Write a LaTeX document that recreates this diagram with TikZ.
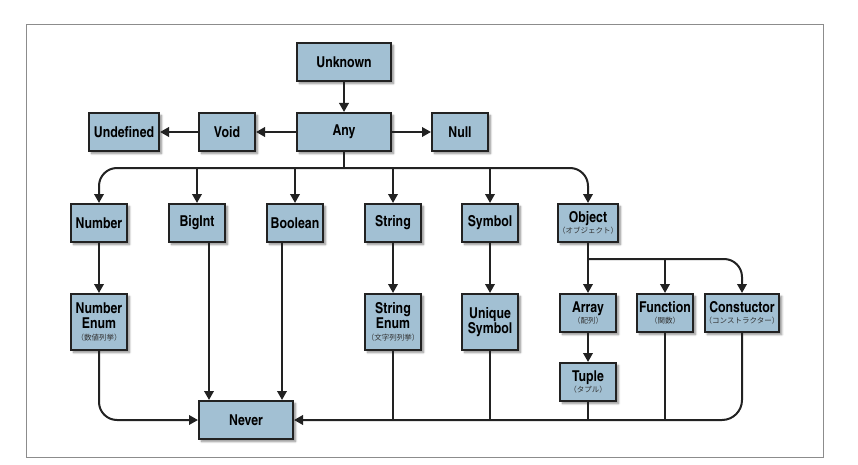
\documentclass[tikz,border=0pt]{standalone}
\usepackage{fontspec}
\setmainfont{texgyreheroscn}[Extension=.otf, UprightFont=*-regular, BoldFont=*-bold]
\newfontfamily\jpfont{Noto Sans CJK JP}
\usetikzlibrary{arrows.meta,shadows.blur}
\definecolor{boxfill}{RGB}{162,192,211}
\definecolor{boxline}{RGB}{34,34,34}
\definecolor{framegray}{RGB}{140,140,140}
\newcommand{\jsub}[1]{{\jpfont\fontsize{7.5}{8}\selectfont\mdseries\color{black!80}#1}}
\tikzset{
  tbox/.style={draw=boxline, line width=2pt, fill=boxfill, inner sep=0pt,
    align=center, font=\bfseries\fontsize{15}{14.5}\selectfont,
    blur shadow={shadow xshift=2.5pt, shadow yshift=-2.5pt, shadow blur steps=6, shadow opacity=45}},
  conn/.style={draw=boxline, line width=2pt},
  arr/.style={conn, -{Triangle[length=9pt,width=9.5pt]}},
}
\begin{document}
\begin{tikzpicture}[x=1pt,y=-1pt]
\useasboundingbox (0,0) rectangle (858,465);
\draw[framegray, line width=1pt] (26.5,24.5) rectangle (823.5,457.5);

\node[tbox, minimum width=94pt, minimum height=38pt] (unknown) at (344,62) {Unknown};
\node[tbox, minimum width=94pt, minimum height=38pt] (any) at (344,132) {Any};
\node[tbox, minimum width=56pt, minimum height=38pt] (void) at (227,132) {Void};
\node[tbox, minimum width=70pt, minimum height=38pt] (undef) at (124,132) {Undefined};
\node[tbox, minimum width=56pt, minimum height=38pt] (null) at (460,132) {Null};

\node[tbox, minimum width=56pt, minimum height=38pt] (number) at (99,223) {Number};
\node[tbox, minimum width=56pt, minimum height=38pt] (bigint) at (197,223) {BigInt};
\node[tbox, minimum width=56pt, minimum height=38pt] (boolean) at (295,223) {Boolean};
\node[tbox, minimum width=56pt, minimum height=38pt] (string) at (393,223) {String};
\node[tbox, minimum width=56pt, minimum height=38pt] (symbol) at (490,223) {Symbol};
\node[tbox, minimum width=56pt, minimum height=38pt] (object) at (588,223) {Object\\[-3pt]\jsub{（オブジェクト）}};

\node[tbox, minimum width=56pt, minimum height=56pt] (numenum) at (99,322) {Number\\Enum\\[-2pt]\jsub{（数値列挙）}};
\node[tbox, minimum width=56pt, minimum height=56pt] (strenum) at (393,322) {String\\Enum\\[-2pt]\jsub{（文字列列挙）}};
\node[tbox, minimum width=56pt, minimum height=56pt] (usym) at (490,322) {Unique\\Symbol};
\node[tbox, minimum width=56pt, minimum height=38pt] (array) at (588,313) {Array\\[-3pt]\jsub{（配列）}};
\node[tbox, minimum width=56pt, minimum height=38pt] (function) at (665,313) {Function\\[-3pt]\jsub{（関数）}};
\node[tbox, minimum width=74pt, minimum height=38pt] (ctor) at (742,313) {Constuctor\\[-3pt]\jsub{（コンストラクター）}};
\node[tbox, minimum width=56pt, minimum height=38pt] (tuple) at (588,382) {Tuple\\[-3pt]\jsub{（タプル）}};
\node[tbox, minimum width=94pt, minimum height=38pt] (never) at (246,420) {Never};

\coordinate (bus) at (0,168);
\coordinate (obus) at (0,259);

% top
\draw[arr] (unknown) -- (any);
\draw[arr] (any) -- (void);
\draw[arr] (void) -- (undef);
\draw[arr] (any) -- (null);

% main bus
\draw[conn] (any.south) -- (any.south |- bus);
\draw[arr, rounded corners=18pt] (any.south |- bus) -| (number.north);
\draw[arr, rounded corners=18pt] (any.south |- bus) -| (object.north);
\draw[arr] (bigint.north |- bus) -- (bigint.north);
\draw[arr] (boolean.north |- bus) -- (boolean.north);
\draw[arr] (string.north |- bus) -- (string.north);
\draw[arr] (symbol.north |- bus) -- (symbol.north);

% second row
\draw[arr] (number) -- (numenum);
\draw[arr] (string) -- (strenum);
\draw[arr] (symbol) -- (usym);
\draw[arr] (object) -- (array);
\draw[arr, rounded corners=18pt] (object.south |- obus) -| (ctor.north);
\draw[arr] (function.north |- obus) -- (function.north);
\draw[arr] (array) -- (tuple);

% to never
\draw[arr, rounded corners=18pt] (numenum.south) |- (never.west);
\draw[arr] ([xshift=12pt]bigint.south) -- ([xshift=12pt]bigint.south |- never.north);
\draw[arr] ([xshift=-13pt]boolean.south) -- ([xshift=-13pt]boolean.south |- never.north);
\draw[arr, rounded corners=20pt] (ctor.south) |- (never.east);
\draw[conn] (strenum.south) -- (strenum.south |- never.east);
\draw[conn] (usym.south) -- (usym.south |- never.east);
\draw[conn] (tuple.south) -- (tuple.south |- never.east);
\draw[conn] (function.south) -- (function.south |- never.east);
\end{tikzpicture}
\end{document}
